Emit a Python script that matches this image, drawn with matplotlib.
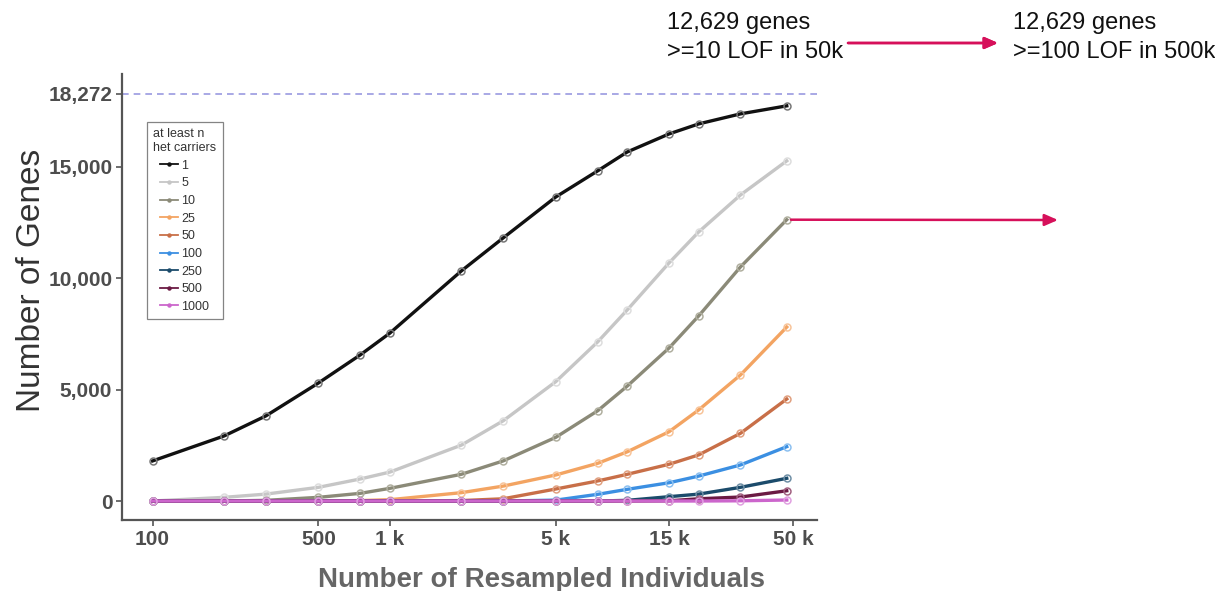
import matplotlib
matplotlib.use("Agg")
import matplotlib.pyplot as plt
from matplotlib.lines import Line2D
from matplotlib.ticker import FixedLocator, NullLocator

# sample sizes (number of resampled individuals)
sizes = [100, 200, 300, 500, 750, 1000, 2000, 3000, 5000, 7500,
         10000, 15000, 20000, 30000, 47000]

# genes with at least n het LOF carriers
genes_1 = [1800, 2920, 3820, 5300, 6560, 7540, 10330, 11810, 13650, 14820,
           15670, 16480, 16930, 17380, 17740]
genes_5 = [0, 165, 310, 615, 990, 1300, 2510, 3600, 5360, 7140,
           8580, 10690, 12080, 13740, 15270]
genes_10 = [0, 0, 30, 165, 345, 570, 1200, 1800, 2860, 4050,
            5160, 6870, 8310, 10510, 12629]
genes_25 = [0, 0, 0, 0, 20, 60, 375, 670, 1170, 1690,
            2210, 3110, 4090, 5660, 7810]
genes_50 = [0, 0, 0, 0, 0, 0, 20, 100, 540, 900,
            1200, 1650, 2070, 3040, 4580]
genes_100 = [0, 0, 0, 0, 0, 0, 0, 0, 40, 300,
             525, 820, 1120, 1620, 2440]
genes_250 = [0, 0, 0, 0, 0, 0, 0, 0, 0, 0,
             30, 195, 310, 615, 1020]
genes_500 = [0, 0, 0, 0, 0, 0, 0, 0, 0, 0,
             0, 10, 100, 180, 460]
genes_1000 = [0, 0, 0, 0, 0, 0, 0, 0, 0, 0,
              0, 0, 0, 10, 45]

series_labels = ["1", "5", "10", "25", "50", "100", "250", "500", "1000"]
series_values = [genes_1, genes_5, genes_10, genes_25, genes_50,
                 genes_100, genes_250, genes_500, genes_1000]
colors = ["#111111", "#c6c6c6", "#8b8a78", "#f3a462", "#c86f48",
          "#3b8fe2", "#1b4b6b", "#6b1a44", "#cc66cc"]
edge_colors = ["#777777", "#dddddd", "#b0af9f", "#f7c49a", "#e0a080",
               "#8cc0f0", "#6f8fa5", "#a06080", "#e0a0e0"]

total_genes = 18272
x_ticks = [100, 500, 1000, 5000, 15000, 50000]
x_tick_labels = ["100", "500", "1 k", "5 k", "15 k", "50 k"]
y_ticks = [0, 5000, 10000, 15000, 18272]
y_tick_labels = ["0", "5,000", "10,000", "15,000", "18,272"]

plt.rcParams["font.family"] = ["Liberation Sans", "DejaVu Sans"]

fig = plt.figure(figsize=(12.15, 5.91), dpi=100)
ax = fig.add_axes([0.1004, 0.1201, 0.5720, 0.7547])

for vals, col, ec in zip(series_values, colors, edge_colors):
    ax.plot(sizes, vals, color=col, lw=2.4, marker="o", ms=5,
            mfc="none", mec=ec, mew=1.1, zorder=3)

ax.axhline(total_genes, color="#9a9ae0", lw=1.2, ls=(0, (4, 3)), zorder=2)

ax.set_xscale("log")
ax.set_xlim(74.3, 63000)
ax.set_ylim(-853, 19170)
ax.xaxis.set_major_locator(FixedLocator(x_ticks))
ax.xaxis.set_minor_locator(NullLocator())
ax.set_xticklabels(x_tick_labels)
ax.set_yticks(y_ticks)
ax.set_yticklabels(y_tick_labels)

for side in ["top", "right"]:
    ax.spines[side].set_visible(False)
for side in ["left", "bottom"]:
    ax.spines[side].set_color("#555555")
    ax.spines[side].set_linewidth(1.6)

ax.tick_params(axis="both", length=4, width=1.2, color="#555555",
               labelsize=15, labelcolor="#4d4d4d", pad=3)
for lab in ax.get_xticklabels() + ax.get_yticklabels():
    lab.set_fontweight("bold")

ax.set_xlabel("Number of Resampled Individuals", fontsize=20,
              fontweight="bold", color="#666666")
ax.xaxis.set_label_coords(0.604, -0.105)
ax.set_ylabel("Number of Genes", fontsize=24, color="#333333")
ax.yaxis.set_label_coords(-0.108, 0.538)

handles = [Line2D([0], [0], color=c, lw=1.3, marker="o", ms=2.2)
           for c in colors]
leg = ax.legend(handles, series_labels, title="at least n\nhet carriers",
                loc="upper left", bbox_to_anchor=(0.036, 0.892),
                borderaxespad=0, fontsize=9, title_fontsize=9,
                handlelength=1.4, handletextpad=0.3, labelspacing=0.45,
                frameon=True, fancybox=False, edgecolor="#666666",
                borderpad=0.5)
leg.get_frame().set_linewidth(0.9)
for t in leg.get_texts():
    t.set_color("#333333")
leg.get_title().set_color("#333333")

# annotations on the right
arrow_col = "#d6105a"
fig.text(667 / 1215, 1 - 12 / 591, "12,629 genes\n>=10 LOF in 50k",
         fontsize=17, va="top", ha="left", color="#111111",
         linespacing=1.4)
fig.text(1013 / 1215, 1 - 12 / 591, "12,629 genes\n>=100 LOF in 500k",
         fontsize=17, va="top", ha="left", color="#111111",
         linespacing=1.4)
fig.add_artist(plt.annotate(
    "", xy=(998 / 1215, 1 - 43 / 591), xytext=(848 / 1215, 1 - 43 / 591),
    xycoords="figure fraction", textcoords="figure fraction",
    arrowprops=dict(arrowstyle="-|>,head_length=0.8,head_width=0.35",
                    color=arrow_col, lw=1.8, shrinkA=0, shrinkB=0)))
ax.annotate("", xy=(1058 / 1215, 1 - 220 / 591),
            xytext=(sizes[-1], genes_10[-1]),
            xycoords="figure fraction", textcoords="data",
            arrowprops=dict(arrowstyle="-|>,head_length=0.8,head_width=0.35",
                            color=arrow_col, lw=1.8, shrinkA=3, shrinkB=0),
            annotation_clip=False)

fig.savefig("out.png", dpi=100)
